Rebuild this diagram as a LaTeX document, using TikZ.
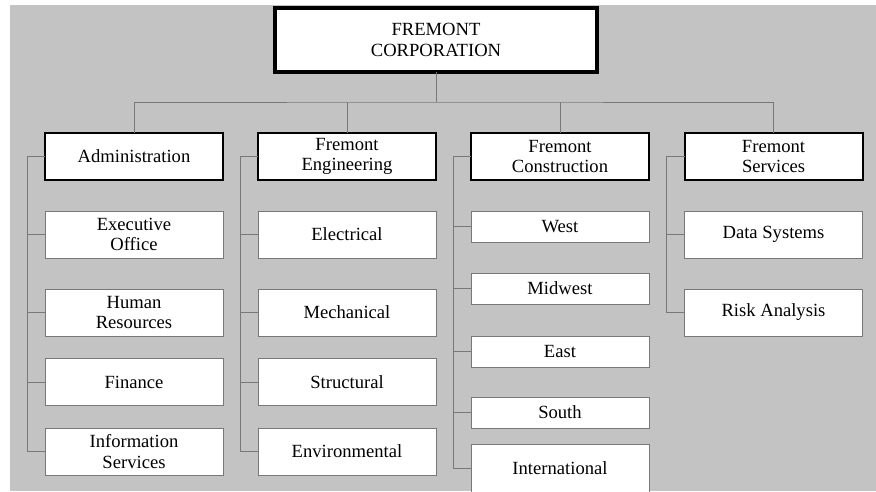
\documentclass[tikz,border=0pt]{standalone}
\usepackage{fontspec}
\setmainfont{Liberation Serif}
\usepackage{tikz}
\usetikzlibrary{positioning}
\definecolor{bggray}{RGB}{195,195,195}
\definecolor{linegray}{RGB}{120,120,120}

\begin{document}
\begin{tikzpicture}[x=1pt, y=-1pt,
       every node/.style={draw, align=center, inner sep=0pt, outer sep=0pt,
                          font=\fontsize{18.6}{20.5}\selectfont},
       top/.style={line width=3.5pt, fill=white, minimum width=322pt, minimum height=64pt},
       division/.style={line width=2pt, fill=white, minimum width=178pt, minimum height=47pt},
       unit/.style={draw=linegray, line width=0.8pt, fill=white, minimum width=178pt, minimum height=47pt},
       smallunit/.style={unit, minimum height=31pt},
       link/.style={draw=linegray, line width=0.8pt}]
       \useasboundingbox (0,0) rectangle (876,491);
       \fill[bggray] (10,5) rectangle (876,491);

       \node[top] (corp) at (436,40) {FREMONT\\CORPORATION};

       \node[division] (admin) at (134,156.5) {Administration};
       \node[division] (eng) at (347,156.5) {Fremont\\Engineering};
       \node[division] (cons) at (560,156.5) {Fremont\\Construction};
       \node[division] (serv) at (773.5,156.5) {Fremont\\Services};

       % Administration
       \node[unit] (exec) at (134,234.5) {Executive\\Office};
       \node[unit] (human) at (134,312.5) {Human\\Resources};
       \node[unit] (finance) at (134,382) {Finance};
       \node[unit] (info) at (134,451.5) {Information\\Services};

       % Engineering
       \node[unit] (elec) at (347,234.5) {Electrical};
       \node[unit] (mech) at (347,312.5) {Mechanical};
       \node[unit] (struct) at (347,382) {Structural};
       \node[unit] (env) at (347,451.5) {Environmental};

       % Construction
       \node[smallunit] (west) at (560,226.5) {West};
       \node[smallunit] (midwest) at (560,288.5) {Midwest};
       \node[smallunit] (east) at (560,351.5) {East};
       \node[smallunit] (south) at (560,412.5) {South};
       \node[unit, minimum height=48pt] (intl) at (560,468) {International};

       % Services
       \node[unit] (data) at (773.5,234.5) {Data Systems};
       \node[unit] (risk) at (773.5,312.5) {Risk Analysis};

       \coordinate (bus) at (436,102);
       \draw[link] (corp.south) -- (bus);
       \draw[link] (admin.north) |- (bus) -| (serv.north);
       \draw[link] (eng.north) -- (eng.north |- bus);
       \draw[link] (cons.north) -- (cons.north |- bus);

       \draw[link] (info.west) -- ++(-18,0) |- (admin.west);
       \foreach \n in {exec, human, finance}
              \draw[link] (\n.west) -- ++(-18,0);

       \draw[link] (env.west) -- ++(-18,0) |- (eng.west);
       \foreach \n in {elec, mech, struct}
              \draw[link] (\n.west) -- ++(-18,0);

       \draw[link] (intl.west) -- ++(-18,0) |- (cons.west);
       \foreach \n in {west, midwest, east, south}
              \draw[link] (\n.west) -- ++(-18,0);

       \draw[link] (risk.west) -- ++(-18,0) |- (serv.west);
       \draw[link] (data.west) -- ++(-18,0);
\end{tikzpicture}
\end{document}
